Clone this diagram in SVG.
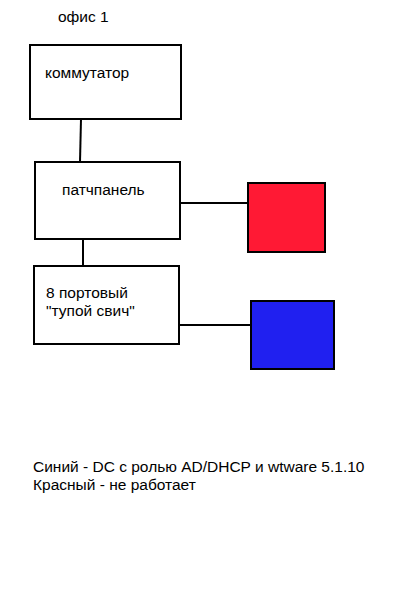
<svg xmlns="http://www.w3.org/2000/svg" width="412" height="600" viewBox="0 0 412 600">
<style>
text{font-family:"Liberation Sans",Arial,sans-serif;font-size:15.5px;fill:#000}
.box{fill:#fff;stroke:#000;stroke-width:2}
.c{stroke:#000;stroke-width:2;fill:none}
</style>
<rect width="412" height="600" fill="#fff"/>
<text x="58" y="22">офис 1</text>
<g id="connectors">
<line class="c" x1="81" y1="119" x2="80" y2="162"/>
<line class="c" x1="83" y1="239" x2="83" y2="266"/>
<line class="c" x1="180" y1="203" x2="248" y2="203"/>
<line class="c" x1="179" y1="325" x2="252" y2="325"/>
</g>
<g id="commutator">
<rect class="box" x="30" y="45" width="151" height="74"/>
<text x="45" y="78">коммутатор</text>
</g>
<g id="patchpanel">
<rect class="box" x="35" y="162" width="145" height="77"/>
<text x="62" y="195">патчпанель</text>
</g>
<g id="switch">
<rect class="box" x="34" y="266" width="145" height="78"/>
<text x="46" y="298">8 портовый</text>
<text x="46" y="316">"тупой свич"</text>
</g>
<g id="red">
<rect x="248" y="183" width="77" height="69" fill="#ff1934" stroke="#000" stroke-width="2"/>
</g>
<g id="blue">
<rect x="251" y="301" width="83" height="68" fill="#2020f0" stroke="#000" stroke-width="2"/>
</g>
<text x="33" y="472">Синий - DC с ролью AD/DHCP и wtware 5.1.10</text>
<text x="33" y="490">Красный - не работает</text>
</svg>
